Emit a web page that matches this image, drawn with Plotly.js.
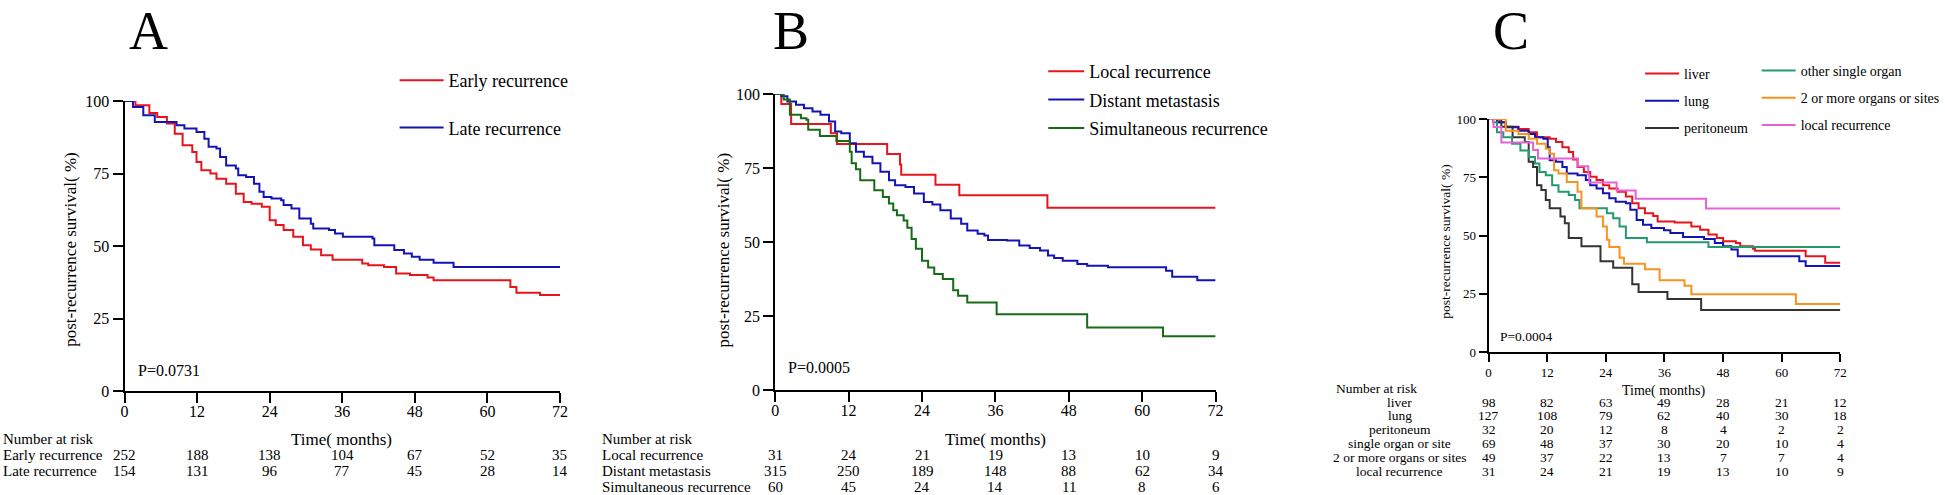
<!DOCTYPE html>
<html>
<head>
<meta charset="utf-8">
<script src="https://cdn.plot.ly/plotly-3.0.1.min.js"></script>
<style>
body { margin: 0; background: #fff; }
#km { width: 1945px; height: 495px; }
</style>
</head>
<body>
<div id="km"></div>
<script>
var W = 1945, H = 495;
var FONT = 'Liberation Serif, Times New Roman, serif';
var months = [0, 12, 24, 36, 48, 60, 72];
var pctTicks = [0, 25, 50, 75, 100];

// A: early vs late recurrence
var earlyT = [0,1.8,4.1,5.4,7.0,8.3,9.6,11.2,11.9,12.7,14.2,15.2,16.8,18.4,19.7,21.0,22.7,24.0,25.0,26.3,27.9,29.5,30.8,32.5,34.4,39.3,40.3,42.9,44.9,47.2,50.1,51.1,63.8,64.8,68.7,72];
var earlyS = [100,98.5,95.9,94.5,92.2,88.7,84.7,82.4,79.0,76.1,75.0,73.2,71.5,68.0,65.2,64.6,63.5,58.9,57.2,55.5,53.2,50.3,48.8,46.8,45.3,44.0,43.4,42.8,40.5,40.0,39.1,38.2,35.9,33.9,33.1,33.1];
var lateT = [0,1.4,3.1,5.0,8.6,9.9,11.9,13.2,13.9,15.2,15.8,16.8,18.4,18.8,20.1,21.4,22.3,23.0,24.3,25.9,26.3,27.6,28.9,30.8,31.2,33.8,34.8,36.1,41.0,41.3,44.6,46.2,47.5,48.8,51.1,54.4,72];
var lateS = [100,97.9,95.1,92.8,91.6,90.5,89.3,87.0,84.2,83.6,80.7,77.8,76.7,74.4,73.8,71.5,68.7,66.9,66.4,65.8,64.1,62.9,59.5,57.7,56.0,55.5,54.3,53.2,52.6,50.3,48.6,47.4,46.3,45.3,44.2,42.8,42.8];

// B: local / distant / simultaneous
var localT = [0,1.0,2.6,9.1,10.1,18.3,20.4,20.6,26.2,30.1,44.5,72];
var localS = [100,96.6,89.9,86.7,83.1,79.7,76.2,72.7,69.3,65.8,61.6,61.6];
var distT = [0,1.0,2.0,3.4,4.7,6.1,7.4,8.8,9.8,10.8,12.2,13.2,14.5,15.9,17.2,18.6,19.6,21.3,22.7,24.3,25.7,27.0,28.7,30.4,31.4,33.1,34.2,34.8,37.9,39.9,41.6,43.3,44.6,45.6,47.0,49.4,51.0,54.4,63.9,64.9,69.0,72];
var distS = [100,99.2,97.5,96.4,95.2,94.1,93.0,90.7,87.3,86.7,83.4,80.5,78.8,76.6,73.7,70.9,69.2,68.6,66.4,63.5,62.7,60.7,57.9,56.2,53.9,52.8,52.2,50.7,50.5,48.8,48.0,47.1,45.4,44.6,43.7,42.6,42.0,41.5,40.3,38.3,37.1,37.1];
var simT = [0,1.4,2.4,4.2,5.1,5.4,7.3,10.0,12.2,12.5,13.2,13.9,16.2,17.6,18.6,19.3,19.9,21.0,21.6,22.3,23.0,24.0,25.0,26.0,27.4,29.1,29.9,31.4,36.2,51.0,63.4,72];
var simS = [100,98.1,93.0,91.8,91.3,87.9,85.8,84.1,80.5,76.6,74.6,70.9,67.5,65.2,63.0,60.7,59.0,57.3,54.8,51.0,47.7,43.7,41.4,39.2,37.5,33.7,31.8,29.6,25.6,21.1,18.2,18.2];

// C: by site
var liverT = [0,2.2,3.5,6.1,8.2,9.9,12.5,13.8,15.1,16.4,17.3,18.2,19.5,20.8,22.1,23.4,24.7,26.4,28.1,29.4,30.7,32.0,33.7,34.6,38.1,41.5,43.3,45.0,46.7,48.0,50.6,51.5,54.1,54.5,64.9,68.9,72];
var liverS = [100,98.6,96.7,95.7,94.3,92.2,91.5,90.1,87.9,85.8,82.6,79.4,77.3,75.2,73.8,71.6,70.2,68.8,66.7,63.8,61.7,59.6,58.4,56.0,55.6,53.9,52.5,50.4,48.9,47.5,46.8,45.4,44.3,43.5,41.1,38.3,38.3];
var lungT = [0,1.7,3.5,6.1,8.2,9.5,11.2,12.1,12.5,13.8,15.1,16.0,18.2,19.9,20.8,22.1,23.4,24.7,26.0,28.1,29.0,30.3,31.6,33.3,35.9,37.2,39.8,44.1,46.3,48.0,49.7,51.0,63.6,64.9,72];
var lungS = [100,98.6,96.5,95.0,93.6,92.2,91.5,87.9,82.3,81.6,79.4,76.6,75.9,73.8,71.6,70.2,68.1,66.0,64.5,63.8,61.0,56.7,54.6,53.2,52.2,51.1,49.4,48.5,46.8,45.4,44.0,41.1,39.0,36.9,36.9];
var periT = [0,2.6,4.9,7.4,8.2,9.1,9.9,10.8,11.7,12.5,14.7,15.6,16.4,19.0,22.9,25.5,29.4,30.7,36.6,43.5,72];
var periS = [100,96.7,92.2,90.1,81.6,79.4,71.6,69.5,65.2,61.7,58.2,55.3,48.9,45.4,39.0,36.2,29.1,25.8,22.7,18.0,18.0];
var otherT = [0,0.9,1.7,3.0,4.8,6.5,8.2,9.5,10.4,11.7,13.0,14.3,16.4,17.7,18.6,24.2,25.5,26.8,28.1,32.4,45.0,72];
var otherS = [100,98.6,94.3,92.2,89.4,86.5,83.7,80.9,77.3,75.9,71.6,68.8,67.4,65.2,61.7,59.6,57.4,53.9,48.9,47.1,45.1,45.1];
var multiT = [0,3.5,6.1,8.2,9.9,11.7,12.5,13.4,14.3,16.0,18.2,19.0,22.1,23.4,24.2,24.7,26.8,27.7,32.0,35.0,40.1,41.5,62.9,72];
var multiS = [100,95.0,93.6,91.5,89.4,87.2,85.1,78.0,76.6,73.0,68.8,61.7,58.2,53.9,48.2,45.1,40.4,37.9,35.5,30.8,28.4,24.8,20.6,20.6];

// numbers at risk
var riskNamesA = ['Early recurrence', 'Late recurrence'];
var riskA = [[252,188,138,104,67,52,35], [154,131,96,77,45,28,14]];
var riskNamesB = ['Local recurrence', 'Distant metastasis', 'Simultaneous recurrence'];
var riskB = [[31,24,21,19,13,10,9], [315,250,189,148,88,62,34], [60,45,24,14,11,8,6]];
var riskNamesC = ['liver', 'lung', 'peritoneum', 'single organ or site', '2 or more organs or sites', 'local recurrence'];
var riskC = [[98,82,63,49,28,21,12], [127,108,79,62,40,30,18], [32,20,12,8,4,2,2], [69,48,37,30,20,10,4], [49,37,22,13,7,7,4], [31,24,21,19,13,10,9]];

function km(t, s, name, color, xa, ya, leg) {
  return {
    x: t, y: s, name: name, type: 'scatter', mode: 'lines',
    line: {shape: 'hv', color: color, width: 2},
    xaxis: xa, yaxis: ya, legend: leg, legendgroup: name + xa,
    cliponaxis: false, hoverinfo: 'skip'
  };
}

var data = [
  km(earlyT, earlyS, 'Early recurrence', '#e8141c', 'x', 'y', 'legend'),
  km(lateT, lateS, 'Late recurrence', '#1414b4', 'x', 'y', 'legend'),
  km(localT, localS, 'Local recurrence', '#e8141c', 'x2', 'y2', 'legend2'),
  km(distT, distS, 'Distant metastasis', '#1414b4', 'x2', 'y2', 'legend2'),
  km(simT, simS, 'Simultaneous recurrence', '#176b17', 'x2', 'y2', 'legend2'),
  km(liverT, liverS, 'liver', '#e8141c', 'x3', 'y3', 'legend3'),
  km(lungT, lungS, 'lung', '#1414b4', 'x3', 'y3', 'legend3'),
  km(periT, periS, 'peritoneum', '#333333', 'x3', 'y3', 'legend3'),
  km(otherT, otherS, 'other single organ', '#23996e', 'x3', 'y3', 'legend4'),
  km(multiT, multiS, '2 or more organs or sites', '#f7931e', 'x3', 'y3', 'legend4'),
  km(localT, localS, 'local recurrence', '#e563d6', 'x3', 'y3', 'legend4')
];

function xax(x0, x1, anchor, fs, tl, so) {
  return {
    domain: [x0 / W, x1 / W], range: [0, 72], anchor: anchor,
    tickvals: months, ticks: 'outside', ticklen: tl, tickwidth: 2, tickcolor: '#000',
    showline: true, linewidth: 2, linecolor: '#000', showgrid: false, zeroline: false,
    ticklabelstandoff: so, tickfont: {family: FONT, size: fs, color: '#000'}
  };
}
function yax(y0, y1, anchor, fs, tl) {
  return {
    domain: [1 - y0 / H, 1 - y1 / H], range: [0, 100], anchor: anchor,
    tickvals: pctTicks, ticks: 'outside', ticklen: tl, tickwidth: 2, tickcolor: '#000',
    showline: true, linewidth: 2, linecolor: '#000', showgrid: false, zeroline: false,
    tickfont: {family: FONT, size: fs, color: '#000'}
  };
}

var ann = [];
function txt(px, py, text, size, anchor, extra) {
  var a = {
    xref: 'paper', yref: 'paper', x: px / W, y: 1 - py / H,
    xanchor: anchor, yanchor: 'middle', text: text, showarrow: false,
    font: {family: FONT, size: size, color: '#000'}
  };
  for (var k in extra) a[k] = extra[k];
  ann.push(a);
}

// panel letters, hung from the top edge
var letterOpts = {yanchor: 'top', borderpad: 0};
txt(128, 0, 'A', 54, 'left', letterOpts);
txt(775, 0, 'B', 54, 'left', letterOpts);
txt(1497, 0, 'C', 54, 'left', letterOpts);

// axis titles
var ytitle = 'post-recurrence survival( %)';
txt(70, 250, ytitle, 17, 'center', {textangle: -90});
txt(726, 250, ytitle, 17, 'center', {textangle: -90});
txt(1450, 242, ytitle, 13.5, 'center', {textangle: -90});
txt(343, 439, 'Time( months)', 17, 'center');
txt(999, 439, 'Time( months)', 17, 'center');
txt(1670, 391, 'Time( months)', 14, 'center');

// p values
txt(136, 370, 'P=0.0731', 16, 'left');
txt(789, 367, 'P=0.0005', 16, 'left');
txt(1503, 336, 'P=0.0004', 13.5, 'left');

// number at risk tables
function riskTable(names, rows, xref, labelX, labelAnchor, headX, headY, y0, dy, fs) {
  txt(headX, headY, 'Number at risk', fs, 'left');
  rows.forEach(function (row, i) {
    var py = y0 + i * dy;
    txt(labelX, py, names[i], fs, labelAnchor);
    row.forEach(function (n, j) {
      ann.push({
        xref: xref, yref: 'paper', x: months[j], y: 1 - py / H,
        xanchor: 'center', yanchor: 'middle', text: String(n), showarrow: false,
        font: {family: FONT, size: fs, color: '#000'}
      });
    });
  });
}
riskTable(riskNamesA, riskA, 'x', 1, 'left', 1, 439, 455, 16, 15);
riskTable(riskNamesB, riskB, 'x2', 602, 'left', 602, 439, 455, 16, 15);
riskTable(riskNamesC, riskC, 'x3', 1405, 'center', 1339, 388, 402, 13.8, 13.5);

function leg(px, py, fs, gap, iw) {
  return {
    x: px / W, y: 1 - py / H, xanchor: 'left', yanchor: 'top',
    font: {family: FONT, size: fs, color: '#000'}, bgcolor: 'rgba(0,0,0,0)',
    tracegroupgap: gap, itemwidth: iw
  };
}

var layout = {
  width: W, height: H,
  margin: {l: 0, r: 0, t: 0, b: 0},
  paper_bgcolor: '#fff', plot_bgcolor: '#fff',
  font: {family: FONT, color: '#000'},
  showlegend: true,
  xaxis: xax(125, 562, 'y', 16, 10, -5),
  yaxis: yax(391, 101, 'x', 16, 10),
  xaxis2: xax(778, 1220, 'y2', 16, 10, -5),
  yaxis2: yax(390, 94, 'x2', 16, 10),
  xaxis3: xax(1494, 1847, 'y3', 13, 8, -1),
  yaxis3: yax(352, 119, 'x3', 13, 8),
  legend: leg(396, 62, 18, 21, 44),
  legend2: leg(1047, 53, 18, 2, 36),
  legend3: leg(1646, 58, 14, 6, 34),
  legend4: leg(1763, 55, 14, 6, 34),
  annotations: ann
};

Plotly.newPlot('km', data, layout, {staticPlot: true});
</script>
</body>
</html>
